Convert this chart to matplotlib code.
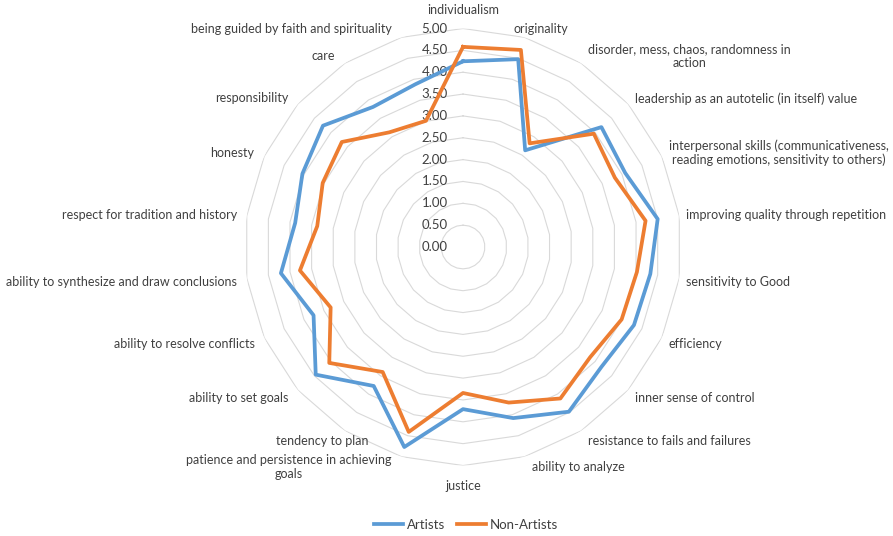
import numpy as np
import matplotlib
matplotlib.use("Agg")
import matplotlib.pyplot as plt

# ========== DATA ==========
categories = [
    "individualism",
    "originality",
    "disorder, mess, chaos, randomness in\naction",
    "leadership as an autotelic (in itself) value",
    "interpersonal skills (communicativeness,\nreading emotions, sensitivity to others)",
    "improving quality through repetition",
    "sensitivity to Good",
    "efficiency",
    "inner sense of control",
    "resistance to fails and failures",
    "ability to analyze",
    "justice",
    "patience and persistence in achieving\ngoals",
    "tendency to plan",
    "ability to set goals",
    "ability to resolve conflicts",
    "ability to synthesize and draw conclusions",
    "respect for tradition and history",
    "honesty",
    "responsibility",
    "care",
    "being guided by faith and spirituality",
]
artists = [4.25, 4.48, 2.63, 4.19, 4.08, 4.50, 4.33, 4.30, 4.19, 4.48, 4.08,
           3.71, 4.77, 3.78, 4.46, 3.76, 4.21, 3.88, 4.04, 4.24, 3.81, 3.88]
non_artists = [4.58, 4.70, 2.82, 3.96, 3.82, 4.22, 4.02, 3.99, 3.85, 4.12, 3.71,
               3.34, 4.41, 3.40, 4.05, 3.33, 3.77, 3.37, 3.53, 3.67, 3.12, 3.01]
ring_values = [0.0, 0.5, 1.0, 1.5, 2.0, 2.5, 3.0, 3.5, 4.0, 4.5, 5.0]

BLUE = "#5B9BD5"
ORANGE = "#ED7D31"
TEXT = "#404040"

plt.rcParams['font.family'] = ['Lato', 'DejaVu Sans']

n = len(categories)
theta = np.arange(n) * 2 * np.pi / n
theta_closed = np.append(theta, theta[0])

fig = plt.figure(figsize=(8.93, 5.36), dpi=100)
ax = fig.add_axes([0.2738, 0.1315, 0.4894, 0.8153], projection="polar")
ax.set_theta_zero_location("N")
ax.set_theta_direction(-1)
ax.set_ylim(0, 5)
ax.grid(False)
ax.spines["polar"].set_visible(False)
ax.set_xticks([])
ax.set_yticks([])
ax.patch.set_alpha(0)

# polygon rings
for r in ring_values[1:]:
    ax.plot(theta_closed, [r] * (n + 1), color="#d9d9d9", lw=0.8, zorder=1)

# value labels left of the vertical axis
for r in ring_values:
    ax.annotate(f"{r:.2f}", xy=(0, r), xytext=(-11, 0), textcoords="offset points",
                ha="right", va="center", fontsize=9.5, color=TEXT)

# series
ax.plot(theta_closed, artists + artists[:1], color=BLUE, lw=2.7, label="Artists", zorder=3)
ax.plot(theta_closed, non_artists + non_artists[:1], color=ORANGE, lw=2.7, label="Non-Artists", zorder=4)

# category labels (a couple nudged the way Excel places them)
nudge = {1: (-13, 0), 13: (24, 0)}
for i, (t, lab) in enumerate(zip(theta, categories)):
    s, c = np.sin(t), np.cos(t)
    if abs(s) < 0.05:
        ha = "center"
        dx = 0
        dy = 13 if c > 0 else -15
    else:
        ha = "left" if s > 0 else "right"
        dx = 5 if s > 0 else -7
        dy = 6 * c - (2 if c < 0 else 0)
    ex, ey = nudge.get(i, (0, 0))
    ax.annotate(lab, xy=(t, 5), xytext=(dx + ex, dy + ey), textcoords="offset points",
                ha=ha, va="center", multialignment="center", fontsize=9, color=TEXT)

fig.legend(loc="lower center", bbox_to_anchor=(0.522, -0.013), ncol=2, frameon=False,
           fontsize=9.5, handlelength=2.2, columnspacing=0.9, handletextpad=0.3,
           labelcolor=TEXT)

plt.savefig("out.png", dpi=100)
